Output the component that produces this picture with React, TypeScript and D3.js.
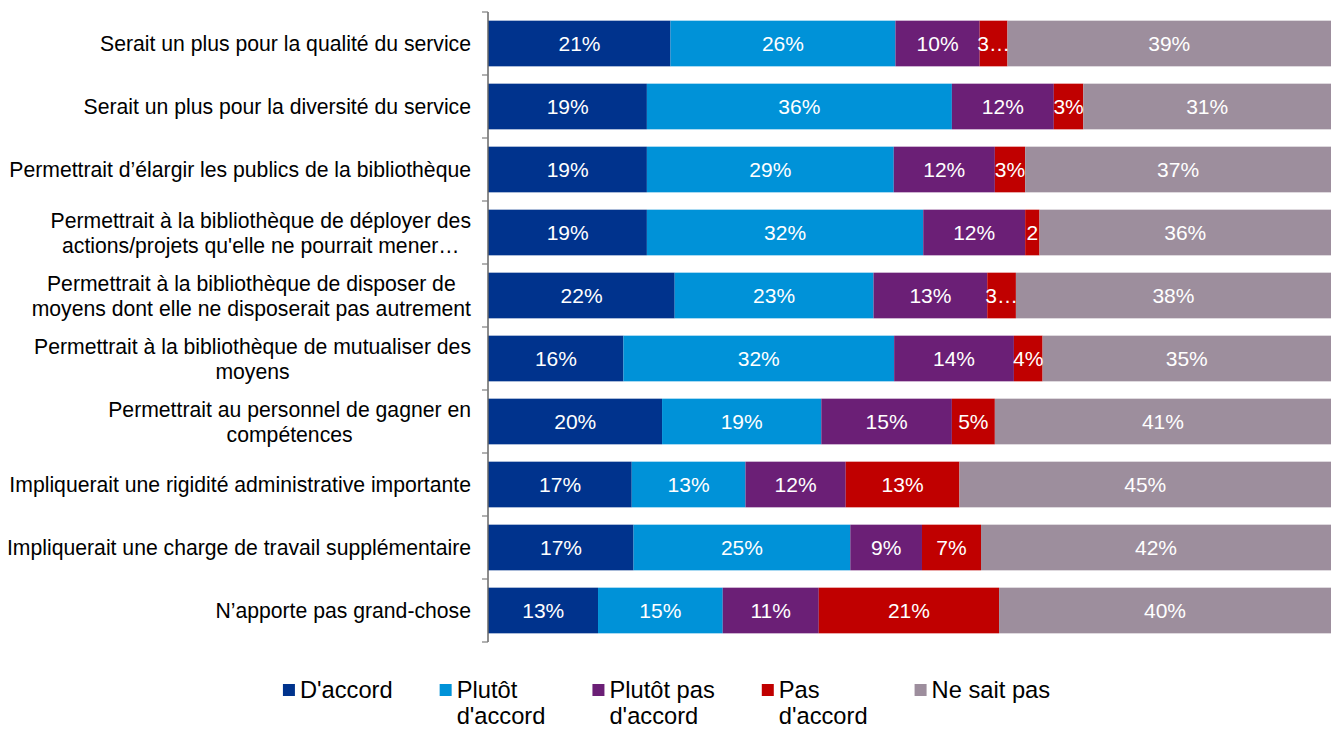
import React, { useMemo } from 'react';
import * as d3 from 'd3';

const categories = [
  "Serait un plus pour la qualité du service",
  "Serait un plus pour la diversité du service",
  "Permettrait d’élargir les publics de la bibliothèque",
  "Permettrait à la bibliothèque de déployer des actions/projets qu'elle ne pourrait mener…",
  "Permettrait à la bibliothèque de disposer de moyens dont elle ne disposerait pas autrement",
  "Permettrait à la bibliothèque de mutualiser des moyens",
  "Permettrait au personnel de gagner en compétences",
  "Impliquerait une rigidité administrative importante",
  "Impliquerait une charge de travail supplémentaire",
  "N’apporte pas grand-chose",
];

const seriesNames = ["D'accord", "Plutôt d'accord", "Plutôt pas d'accord", "Pas d'accord", "Ne sait pas"];

const dAccord = [21.6, 18.8, 18.8, 18.8, 22.1, 16.0, 20.6, 17.0, 17.2, 13.0];
const plutotDAccord = [26.7, 36.2, 29.3, 32.8, 23.6, 32.1, 18.9, 13.5, 25.7, 14.8];
const plutotPasDAccord = [10.0, 12.1, 12.0, 12.1, 13.5, 14.2, 15.5, 11.9, 8.5, 11.4];
const pasDAccord = [3.3, 3.5, 3.6, 1.7, 3.4, 3.4, 5.1, 13.5, 7.0, 21.4];
const neSaitPas = [38.4, 29.4, 36.3, 34.6, 37.4, 34.2, 39.9, 44.1, 41.5, 39.4];

const labelsDAccord = ["21%", "19%", "19%", "19%", "22%", "16%", "20%", "17%", "17%", "13%"];
const labelsPlutotDAccord = ["26%", "36%", "29%", "32%", "23%", "32%", "19%", "13%", "25%", "15%"];
const labelsPlutotPasDAccord = ["10%", "12%", "12%", "12%", "13%", "14%", "15%", "12%", "9%", "11%"];
const labelsPasDAccord = ["3…", "3%", "3%", "2", "3…", "4%", "5%", "13%", "7%", "21%"];
const labelsNeSaitPas = ["39%", "31%", "37%", "36%", "38%", "35%", "41%", "45%", "42%", "40%"];

const colors = ["#00338D", "#0092D8", "#6B1F76", "#C00000", "#9D8E9D"];

const W = 1331;
const H = 729;
const FONT = '"Liberation Sans", Arial, Helvetica, sans-serif';
const CAT_SIZE = 21.2;
const LBL_SIZE = 21;
const LEG_SIZE = 23.7;

let _ctx: CanvasRenderingContext2D | null = null;
function measure(text: string, size: number): number {
  if (!_ctx) _ctx = document.createElement('canvas').getContext('2d');
  if (!_ctx) return text.length * size * 0.5;
  _ctx.font = `${size}px ${FONT}`;
  return _ctx.measureText(text).width;
}

function wrap(text: string, size: number, maxW: number): string[] {
  const words = text.split(' ');
  const lines: string[] = [];
  let cur = '';
  for (const w of words) {
    const t = cur ? cur + ' ' + w : w;
    if (cur && measure(t, size) > maxW) {
      lines.push(cur);
      cur = w;
    } else cur = t;
  }
  if (cur) lines.push(cur);
  return lines;
}

export default function App() {
  const seriesValues = [dAccord, plutotDAccord, plutotPasDAccord, pasDAccord, neSaitPas];
  const seriesLabels = [labelsDAccord, labelsPlutotDAccord, labelsPlutotPasDAccord, labelsPasDAccord, labelsNeSaitPas];

  const rows = categories.map((c, i) => {
    const r: any = { category: c };
    seriesNames.forEach((s, j) => (r[s] = seriesValues[j][i]));
    return r;
  });

  const stacked = d3.stack<any>().keys(seriesNames).offset(d3.stackOffsetExpand)(rows);

  const x = d3.scaleLinear().domain([0, 1]).range([488.5, 1331]);
  const y = d3.scaleBand<string>().domain(categories).range([12, 642]).paddingInner(0.275).paddingOuter(0.1375);
  const step = y.step();
  const axisX = 488;

  const catLayout = useMemo(
    () =>
      categories.map((c) => {
        const lines = wrap(c, CAT_SIZE, 472);
        const widths = lines.map((l) => measure(l, CAT_SIZE));
        const maxW = Math.max(...widths);
        return { lines, cx: 471 - maxW / 2 };
      }),
    []
  );

  const legend = useMemo(() => {
    const items = seriesNames.map((s, i) => {
      let lines: string[];
      const idx = s.lastIndexOf(" d'accord");
      if (idx > 0) lines = [s.slice(0, idx), s.slice(idx + 1)];
      else lines = [s];
      const tw = Math.max(...lines.map((l) => measure(l, LEG_SIZE)));
      return { name: s, lines, color: colors[i], w: 17 + tw };
    });
    const gap = 47;
    const total = d3.sum(items, (d) => d.w) + gap * (items.length - 1);
    let cur = (W - total) / 2 + 1;
    return items.map((it) => {
      const o = { ...it, x: cur };
      cur += it.w + gap;
      return o;
    });
  }, []);

  const lineH = 24.8;

  return (
    <svg
      width={W}
      height={H}
      style={{ position: 'absolute', left: 0, top: 0, background: '#fff' }}
      fontFamily={FONT}
    >
      {/* bars */}
      {stacked.map((s, si) => (
        <g key={s.key} fill={colors[si]}>
          {s.map((d: any, i: number) => (
            <rect
              key={i}
              x={x(d[0])}
              y={y(categories[i])}
              width={Math.max(0, x(d[1]) - x(d[0]))}
              height={y.bandwidth()}
            />
          ))}
        </g>
      ))}
      {/* data labels */}
      {stacked.map((s, si) => (
        <g key={'l' + s.key} fill="#FFFFFF" fontSize={LBL_SIZE} textAnchor="middle">
          {s.map((d: any, i: number) => (
            <text
              key={i}
              x={(x(d[0]) + x(d[1])) / 2}
              y={(y(categories[i]) as number) + y.bandwidth() / 2}
              dy="0.36em"
            >
              {seriesLabels[si][i]}
            </text>
          ))}
        </g>
      ))}
      {/* axis */}
      <line x1={axisX} x2={axisX} y1={12} y2={642} stroke="#1a1a1a" strokeWidth={1} />
      {d3.range(categories.length + 1).map((k) => (
        <line
          key={k}
          x1={axisX - 6}
          x2={axisX}
          y1={12 + k * step}
          y2={12 + k * step}
          stroke="#7f7f7f"
          strokeWidth={1.2}
        />
      ))}
      {/* category labels */}
      {categories.map((c, i) => {
        const cy = (y(c) as number) + y.bandwidth() / 2;
        const L = catLayout[i];
        const n = L.lines.length;
        return (
          <text key={c} fontSize={CAT_SIZE} fill="#000" textAnchor="middle">
            {L.lines.map((l, k) => (
              <tspan key={k} x={L.cx} y={cy + (k - (n - 1) / 2) * lineH} dy="0.36em">
                {l}
              </tspan>
            ))}
          </text>
        );
      })}
      {/* legend */}
      {legend.map((it) => (
        <g key={it.name}>
          <rect x={it.x} y={684} width={12} height={12} fill={it.color} />
          <text fontSize={LEG_SIZE} fill="#000">
            {it.lines.map((l, k) => (
              <tspan key={k} x={it.x + 17} y={698 + k * 25.5}>
                {l}
              </tspan>
            ))}
          </text>
        </g>
      ))}
    </svg>
  );
}
